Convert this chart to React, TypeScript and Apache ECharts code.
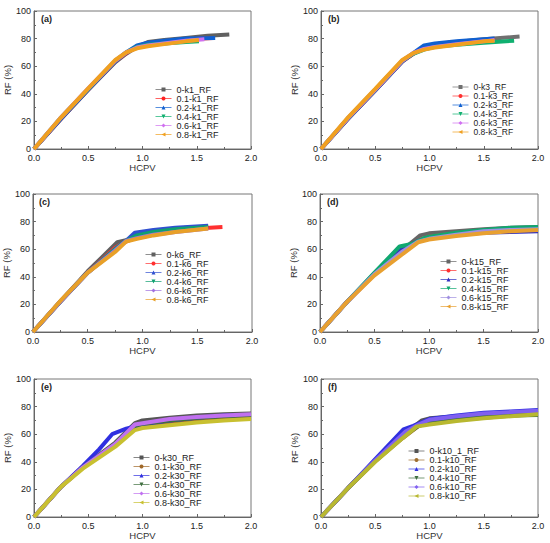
import { useRef, useEffect } from "react"
import * as echarts from "echarts"

type Pt = [number, number]

// RF (%) against HCPV, one list of curves per panel
const seriesSuffix = ["0", "0.1", "0.2", "0.4", "0.6", "0.8"]
const panelKeys = ["k1", "k3", "k6", "k15", "k30", "k10"]
const panelTags = ["(a)", "(b)", "(c)", "(d)", "(e)", "(f)"]

const panelA: Pt[][] = [
  [[0, 0], [0.25, 22], [0.5, 43], [0.75, 63], [0.85, 69], [0.95, 74], [1.05, 77.5], [1.2, 79], [1.4, 80.5], [1.6, 82], [1.8, 83]],
  [[0, 0], [0.25, 22], [0.5, 43], [0.75, 63.5], [0.85, 69.5], [0.95, 74.5], [1.05, 76.5], [1.2, 78], [1.4, 79.5], [1.65, 80.5]],
  [[0, 0], [0.25, 22], [0.5, 43], [0.75, 63.5], [0.85, 70], [0.95, 75], [1.05, 77], [1.2, 78.5], [1.4, 80], [1.67, 80.5]],
  [[0, 0], [0.25, 23], [0.5, 43.5], [0.75, 64], [0.85, 70], [0.95, 74], [1.05, 75.5], [1.2, 76.5], [1.4, 77.5], [1.52, 78]],
  [[0, 0], [0.25, 23], [0.5, 44], [0.75, 64], [0.85, 70], [0.95, 73.5], [1.05, 75], [1.2, 76.5], [1.4, 78.5], [1.57, 79.5]],
  [[0, 0], [0.25, 23], [0.5, 44], [0.75, 64.5], [0.85, 70], [0.95, 73], [1.05, 74.5], [1.2, 76], [1.4, 78], [1.52, 79]],
]

const panelB: Pt[][] = [
  [[0, 0], [0.25, 22], [0.5, 42.5], [0.75, 63.5], [0.85, 69], [0.95, 73.5], [1.05, 76], [1.25, 77.5], [1.5, 79.5], [1.83, 81.5]],
  [[0, 0], [0.25, 22], [0.5, 42.5], [0.75, 63.5], [0.85, 69], [0.95, 74], [1.05, 76], [1.25, 77.5], [1.5, 79], [1.6, 79.5]],
  [[0, 0], [0.25, 22], [0.5, 42.5], [0.75, 63.5], [0.85, 69.5], [0.95, 75], [1.05, 76.5], [1.25, 78], [1.5, 79.5], [1.6, 80]],
  [[0, 0], [0.25, 22.5], [0.5, 43], [0.75, 64], [0.85, 69], [0.95, 72], [1.05, 74], [1.25, 75.5], [1.5, 77], [1.78, 78.5]],
  [[0, 0], [0.25, 22.5], [0.5, 43], [0.75, 64], [0.85, 69.5], [0.95, 72.5], [1.05, 74], [1.25, 76], [1.5, 78], [1.6, 79]],
  [[0, 0], [0.25, 23], [0.5, 43.5], [0.75, 64.5], [0.85, 69.5], [0.95, 72], [1.05, 73.5], [1.25, 75.5], [1.5, 78], [1.6, 78.5]],
]

const panelC: Pt[][] = [
  [[0, 0], [0.25, 22], [0.5, 44], [0.77, 65], [0.85, 66.5], [0.95, 70], [1.1, 73], [1.3, 75], [1.6, 76.5]],
  [[0, 0], [0.25, 22], [0.5, 43], [0.75, 61], [0.85, 65.5], [0.95, 68.5], [1.1, 71], [1.3, 73], [1.5, 75], [1.73, 76]],
  [[0, 0], [0.25, 22], [0.5, 43], [0.75, 60], [0.85, 66], [0.93, 72], [1.1, 74], [1.3, 75.5], [1.6, 77]],
  [[0, 0], [0.25, 22], [0.5, 43], [0.75, 60], [0.85, 66], [0.95, 70], [1.1, 72.5], [1.3, 74.5], [1.6, 76]],
  [[0, 0], [0.25, 22], [0.5, 43], [0.75, 59], [0.85, 66], [0.95, 68], [1.1, 70.5], [1.3, 72.5], [1.6, 75]],
  [[0, 0], [0.25, 22.5], [0.5, 43], [0.75, 58], [0.85, 65.5], [0.95, 67.5], [1.1, 70], [1.3, 72.5], [1.6, 75]],
]

const panelD: Pt[][] = [
  [[0, 0], [0.25, 22], [0.5, 42], [0.75, 59], [0.92, 70], [1.0, 71.5], [1.25, 73], [1.5, 74.5], [1.75, 75.5], [2.0, 76]],
  [[0, 0], [0.25, 22], [0.5, 42], [0.75, 58], [0.92, 67], [1.0, 69], [1.25, 71.5], [1.5, 73], [1.75, 74], [2.0, 75]],
  [[0, 0], [0.25, 22], [0.5, 42.5], [0.75, 60], [0.9, 66], [1.0, 68], [1.25, 70.5], [1.5, 72], [1.75, 72.5], [2.0, 73]],
  [[0, 0], [0.25, 22], [0.5, 43], [0.73, 62], [0.85, 64], [0.95, 68], [1.0, 69], [1.25, 72], [1.5, 74], [1.75, 75.5], [2.0, 76]],
  [[0, 0], [0.25, 22], [0.5, 42], [0.75, 58], [0.9, 65.5], [1.0, 67.5], [1.25, 70.5], [1.5, 73], [1.75, 74], [2.0, 74.5]],
  [[0, 0], [0.25, 22], [0.5, 41], [0.75, 56], [0.9, 65], [1.0, 67], [1.25, 69.5], [1.5, 71.5], [1.75, 73], [2.0, 74]],
]

const panelE: Pt[][] = [
  [[0, 0], [0.25, 22], [0.45, 36], [0.6, 45], [0.75, 54], [0.93, 68], [1.0, 70], [1.25, 72], [1.5, 73.5], [1.75, 74.5], [2.0, 75]],
  [[0, 0], [0.25, 22], [0.45, 36], [0.6, 44], [0.75, 52], [0.93, 65], [1.0, 66], [1.25, 68.5], [1.5, 70], [1.75, 71], [2.0, 72]],
  [[0, 0], [0.25, 22], [0.45, 37], [0.6, 49], [0.72, 60], [0.85, 64], [1.0, 67], [1.25, 70], [1.5, 72], [1.75, 73.5], [2.0, 74]],
  [[0, 0], [0.25, 22], [0.45, 36], [0.6, 44.5], [0.75, 53], [0.93, 66], [1.0, 67.5], [1.25, 70], [1.5, 72], [1.75, 73], [2.0, 74]],
  [[0, 0], [0.25, 22], [0.45, 36], [0.6, 44.5], [0.75, 53], [0.93, 67], [1.0, 68], [1.25, 71], [1.5, 72.5], [1.75, 73.5], [2.0, 74.5]],
  [[0, 0], [0.25, 22], [0.45, 35], [0.6, 43], [0.75, 51], [0.93, 63], [1.0, 64.5], [1.25, 66.5], [1.5, 68.5], [1.75, 70], [2.0, 71]],
]

const panelF: Pt[][] = [
  [[0, 0], [0.25, 21], [0.5, 41], [0.75, 59], [0.93, 70], [1.0, 71.5], [1.25, 73], [1.5, 74.5], [1.75, 75.5], [2.0, 76]],
  [[0, 0], [0.25, 21], [0.5, 40.5], [0.75, 57], [0.9, 66], [1.0, 68], [1.25, 70.5], [1.5, 72], [1.75, 73.5], [2.0, 74.5]],
  [[0, 0], [0.25, 21], [0.5, 42], [0.76, 63.5], [0.85, 66], [1.0, 71], [1.25, 73.5], [1.5, 75.5], [1.75, 76.5], [2.0, 77.5]],
  [[0, 0], [0.25, 21], [0.5, 40.5], [0.75, 58], [0.9, 66], [1.0, 68.5], [1.25, 71], [1.5, 72.5], [1.75, 73.5], [2.0, 74]],
  [[0, 0], [0.25, 21], [0.5, 41], [0.78, 62], [0.9, 67], [1.0, 70.5], [1.25, 73], [1.5, 75], [1.75, 76], [2.0, 77]],
  [[0, 0], [0.25, 21], [0.5, 40], [0.75, 57], [0.88, 65.5], [1.0, 67], [1.25, 69.5], [1.5, 71.5], [1.75, 73], [2.0, 74.5]],
]

const panels = [panelA, panelB, panelC, panelD, panelE, panelF]

const xTicks = [0, 0.5, 1.0, 1.5, 2.0]
const yTicks = [0, 20, 40, 60, 80, 100]

const palettes = [
  ["#606060", "#ff2020", "#1060d0", "#10b070", "#d070f0", "#f0a020"],
  ["#707070", "#ff3030", "#1060d0", "#10b070", "#d070f0", "#f0a020"],
  ["#606060", "#ff3030", "#3050d0", "#10a070", "#a070e0", "#e8a028"],
  ["#666666", "#ff3030", "#3030c0", "#10a870", "#a090e0", "#e8a030"],
  ["#555555", "#a06828", "#3030e0", "#407040", "#c070f0", "#c8c030"],
  ["#555555", "#a07030", "#3030e0", "#407040", "#8060f0", "#b8b830"],
]

const markers = ["rect", "circle", "triangle", "triangle", "diamond", "triangle"]
const markerRotate = [0, 0, 0, 180, 0, 90]

// grid boxes and legend anchors (px)
const boxes = [
  { left: 34, top: 11, width: 217, height: 138 },
  { left: 321, top: 11, width: 217, height: 138 },
  { left: 32, top: 194, width: 220, height: 138 },
  { left: 320, top: 194, width: 218, height: 138 },
  { left: 34, top: 379, width: 217, height: 138 },
  { left: 321, top: 379, width: 217, height: 138 },
]
const legendPos = [
  { left: 155, top: 85, size: 9, step: 8.6 },
  { left: 452, top: 82.5, size: 8.5, step: 6.6 },
  { left: 145, top: 250, size: 9, step: 8.8 },
  { left: 440, top: 257, size: 9, step: 8.7 },
  { left: 133, top: 453, size: 9, step: 8.7 },
  { left: 408, top: 446.5, size: 9, step: 8.8 },
]

const FONT = "Liberation Sans, Arial, sans-serif"

export default function App() {
  const chartRef = useRef<HTMLDivElement>(null)

  useEffect(() => {
    if (!chartRef.current) return
    const chart = echarts.init(chartRef.current, null, { renderer: "svg" })

    const grids: any[] = []
    const xAxes: any[] = []
    const yAxes: any[] = []
    const legends: any[] = []
    const series: any[] = []
    const graphics: any[] = []

    panels.forEach((curves, p) => {
      const b = boxes[p]
      grids.push({ ...b, show: true, borderColor: "#777", borderWidth: 1 })
      xAxes.push({
        type: "value",
        gridIndex: p,
        min: xTicks[0],
        max: xTicks[xTicks.length - 1],
        interval: 0.5,
        name: "HCPV",
        nameLocation: "middle",
        nameGap: 13,
        nameTextStyle: { fontFamily: FONT, fontSize: 9.5, color: "#333" },
        axisLine: { lineStyle: { color: "#666", width: 1 } },
        axisTick: { inside: true, length: 3, lineStyle: { color: "#666" } },
        minorTick: { show: true, splitNumber: 2, length: 2, lineStyle: { color: "#666" } },
        splitLine: { show: false },
        axisLabel: {
          fontFamily: FONT,
          fontSize: 9,
          color: "#222",
          margin: 4,
          formatter: (v: number) => v.toFixed(1),
        },
      })
      yAxes.push({
        type: "value",
        gridIndex: p,
        min: yTicks[0],
        max: yTicks[yTicks.length - 1],
        interval: 20,
        name: "RF (%)",
        nameLocation: "middle",
        nameGap: 19,
        nameTextStyle: { fontFamily: FONT, fontSize: 9.5, color: "#333" },
        axisLine: { lineStyle: { color: "#666", width: 1 } },
        axisTick: { inside: true, length: 3, lineStyle: { color: "#666" } },
        minorTick: { show: true, splitNumber: 2, length: 2, lineStyle: { color: "#666" } },
        splitLine: { show: false },
        axisLabel: { fontFamily: FONT, fontSize: 9, color: "#222", margin: 3, padding: [0, 0, 2, 0] },
      })

      const names = seriesSuffix.map((s) =>
        p === 5 && s === "0" ? `${s}-${panelKeys[p]}_1_RF` : `${s}-${panelKeys[p]}_RF`
      )
      const lp = legendPos[p]
      legends.push({
        data: names,
        orient: "vertical",
        left: lp.left,
        top: lp.top,
        padding: 0,
        itemGap: 0,
        itemWidth: 16,
        itemHeight: 5,
        selectedMode: false,
        lineStyle: { width: 1, opacity: 0.7 },
        textStyle: {
          fontFamily: FONT,
          fontSize: lp.size,
          lineHeight: lp.step,
          color: "#222",
        },
      })

      curves.forEach((pts, i) => {
        series.push({
          type: "line",
          name: names[i],
          xAxisIndex: p,
          yAxisIndex: p,
          data: pts,
          showSymbol: false,
          symbol: markers[i],
          symbolRotate: markerRotate[i],
          color: palettes[p][i],
          lineStyle: { width: 4, color: palettes[p][i] },
          z: 2 + i,
        })
      })

      graphics.push({
        type: "text",
        left: b.left + 7,
        top: b.top + 3,
        style: {
          text: panelTags[p],
          font: `bold 9px ${FONT}`,
          fill: "#222",
        },
      })
    })

    chart.setOption({
      animation: false,
      backgroundColor: "#fff",
      grid: grids,
      xAxis: xAxes,
      yAxis: yAxes,
      legend: legends,
      series,
      graphic: graphics,
    })

    return () => {
      chart.dispose()
    }
  }, [])

  return (
    <div
      ref={chartRef}
      style={{ position: "absolute", left: 0, top: 0, width: "550px", height: "543px" }}
    />
  )
}
